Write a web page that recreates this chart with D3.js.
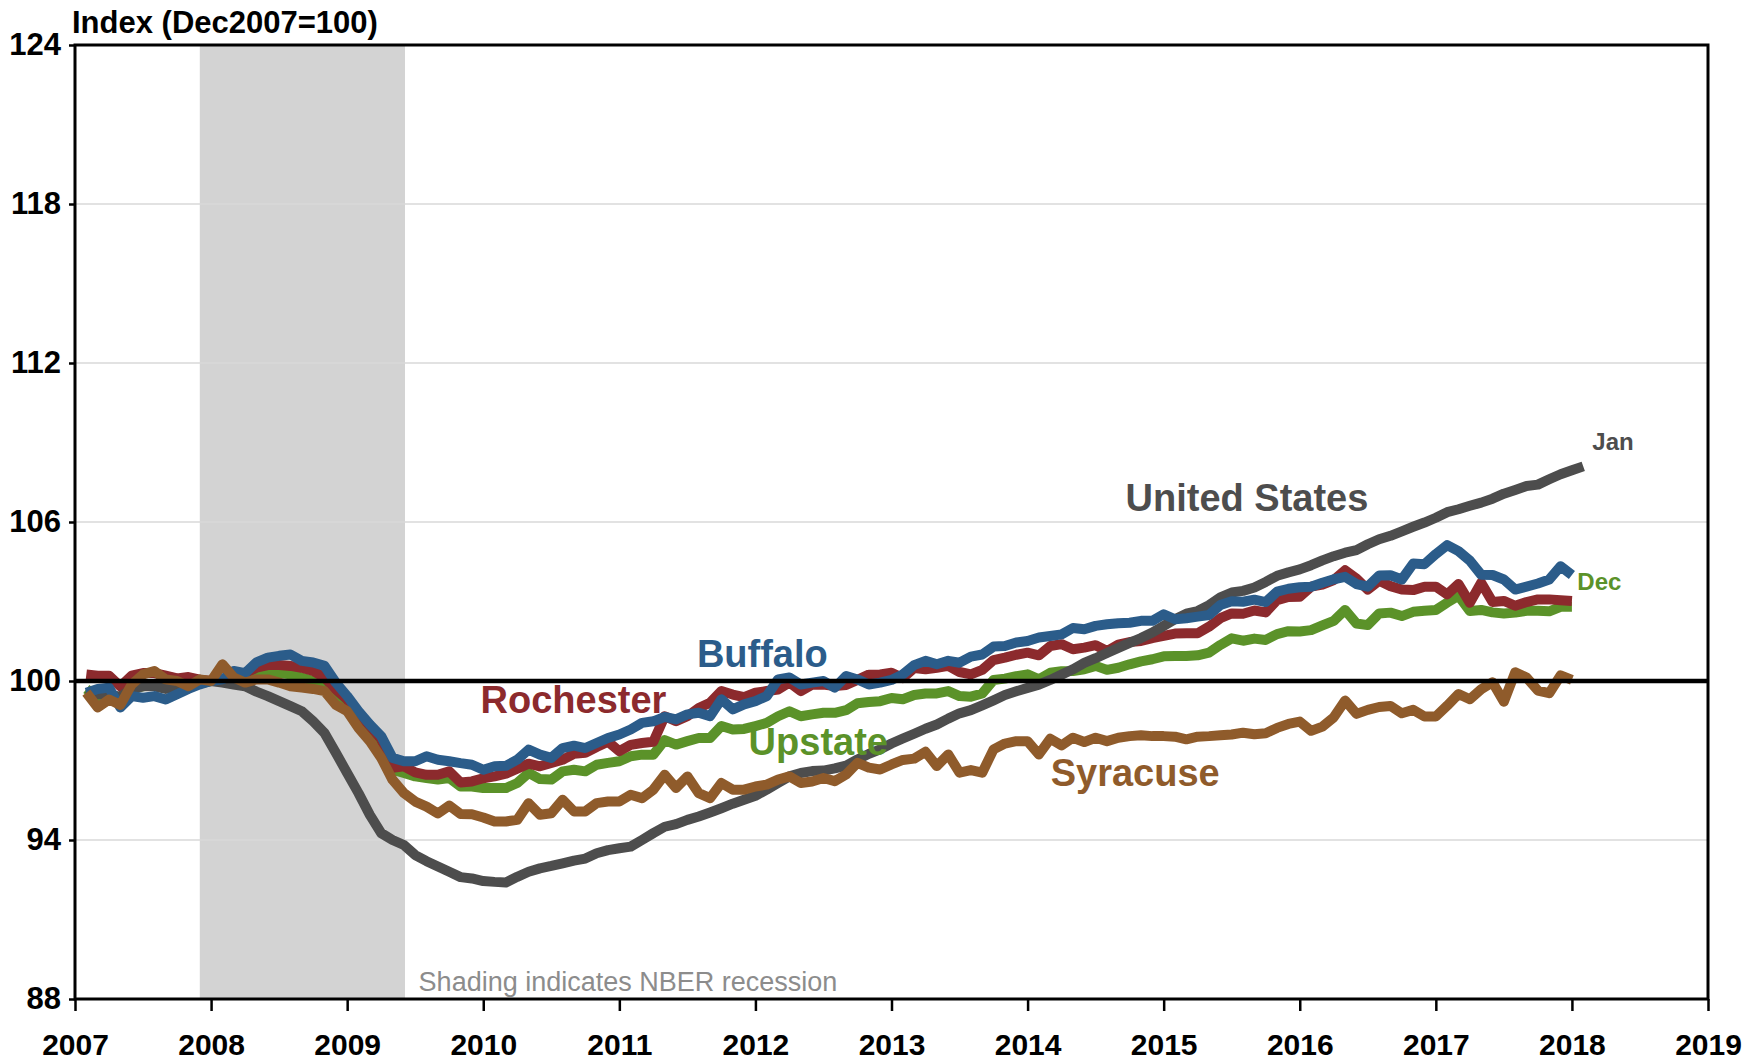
<!DOCTYPE html>
<html>
<head>
<meta charset="utf-8">
<title>Upstate employment index</title>
<script src="https://cdn.jsdelivr.net/npm/d3@7"></script>
<style>
  html, body { margin: 0; padding: 0; background: #ffffff; }
  #chart { width: 1760px; height: 1063px; }
  text { font-family: "Liberation Sans", Arial, sans-serif; }
</style>
</head>
<body>
<div id="chart"></div>
<script>
'use strict';

//#region data - monthly index values, Dec2007 = 100, first value is Jan 2007
const startYear = 2007;

const unitedStates = [
  99.4, 99.5, 99.5, 99.4, 99.7, 99.8, 99.8, 99.7, 99.8, 99.8, 99.9, 100,
  99.94, 99.87, 99.8, 99.6, 99.43, 99.24, 99.05, 98.86, 98.48, 98.04, 97.29, 96.53,
  95.77, 94.95, 94.26, 94.0, 93.81, 93.43, 93.2, 93.0, 92.8, 92.6, 92.55, 92.45,
  92.42, 92.4, 92.61, 92.8, 92.93, 93.02, 93.12, 93.22, 93.3, 93.5, 93.62, 93.69,
  93.75, 94.0, 94.26, 94.5, 94.6, 94.76, 94.89, 95.04, 95.2, 95.37, 95.52, 95.67,
  95.9, 96.15, 96.4, 96.53, 96.6, 96.62, 96.7, 96.81, 97.04, 97.25, 97.42, 97.64,
  97.83, 98.01, 98.2, 98.36, 98.58, 98.78, 98.9, 99.08, 99.27, 99.47, 99.61, 99.74,
  99.86, 100.04, 100.24, 100.44, 100.68, 100.86, 101.06, 101.25, 101.44, 101.62, 101.83, 102.08,
  102.33, 102.54, 102.64, 102.86, 103.16, 103.34, 103.4, 103.53, 103.74, 103.97, 104.1, 104.21,
  104.37, 104.55, 104.71, 104.84, 104.94, 105.16, 105.35, 105.48, 105.65, 105.82, 105.98, 106.16,
  106.37, 106.48, 106.61, 106.73, 106.88, 107.07, 107.21, 107.36, 107.41, 107.61, 107.8, 107.95,
  108.1
];

const buffalo = [
  99.56, 99.7, 99.75, 99.0, 99.43, 99.37, 99.43, 99.3, 99.5, 99.7, 99.87, 100,
  100.06, 100.38, 100.3, 100.7, 100.88, 100.95, 101.0, 100.76, 100.7, 100.57, 99.94, 99.43,
  98.86, 98.36, 97.92, 97.1, 96.97, 96.97, 97.16, 97.03, 96.97, 96.9, 96.84, 96.65,
  96.78, 96.8, 97.03, 97.41, 97.22, 97.1, 97.47, 97.56, 97.47, 97.66, 97.85, 97.98,
  98.17, 98.42, 98.48, 98.65, 98.55, 98.74, 98.8, 98.67, 99.31, 98.93, 99.12, 99.24,
  99.43, 100.06, 100.13, 99.87, 99.94, 100.0, 99.75, 100.19, 100.06, 99.87, 99.94, 100.04,
  100.25, 100.6, 100.76, 100.63, 100.76, 100.69, 100.92, 101.0, 101.3, 101.32, 101.45, 101.51,
  101.64, 101.7, 101.76, 102.0, 101.95, 102.08, 102.14, 102.18, 102.2, 102.27, 102.27, 102.52,
  102.33, 102.37, 102.43, 102.49, 102.87, 103.01, 102.99, 103.07, 102.98, 103.37, 103.48, 103.54,
  103.56, 103.71, 103.84, 103.93, 103.66, 103.56, 103.98, 103.99, 103.83, 104.43, 104.41, 104.79,
  105.13, 104.9, 104.54, 104.01, 104.0, 103.83, 103.45, 103.56, 103.68, 103.83, 104.33, 104.0
];

const rochester = [
  100.25, 100.2, 100.2, 99.8, 100.2, 100.3, 100.3, 100.2, 100.1, 100.15, 100.05, 100,
  100.0, 100.3, 100.3, 100.5, 100.6, 100.6, 100.57, 100.5, 100.38, 100.13, 99.68, 99.3,
  98.74, 98.3, 97.8, 96.72, 96.78, 96.55, 96.46, 96.46, 96.59, 96.17, 96.21, 96.33,
  96.4, 96.5, 96.69, 96.88, 96.78, 96.91, 97.03, 97.25, 97.29, 97.51, 97.71, 97.35,
  97.59, 97.66, 97.71, 98.67, 98.48, 98.67, 98.98, 99.18, 99.62, 99.49, 99.39, 99.56,
  99.62, 99.68, 99.94, 99.62, 99.86, 99.87, 99.81, 99.85, 100.04, 100.24, 100.25, 100.31,
  100.11, 100.49, 100.44, 100.5, 100.57, 100.34, 100.25, 100.42, 100.79, 100.88, 100.99, 101.07,
  100.97, 101.32, 101.39, 101.2, 101.26, 101.35, 101.13, 101.37, 101.47, 101.51, 101.62, 101.7,
  101.79, 101.8, 101.8, 102.05, 102.37, 102.55, 102.54, 102.66, 102.59, 103.05, 103.17, 103.18,
  103.56, 103.64, 103.81, 104.18, 103.87, 103.45, 103.78, 103.58, 103.45, 103.43, 103.56, 103.56,
  103.27, 103.66, 102.95, 103.71, 102.98, 103.02, 102.84, 102.98, 103.08, 103.08, 103.05, 103.02
];

const upstate = [
  99.7, 99.37, 99.5, 99.1, 99.68, 99.8, 99.87, 99.75, 99.8, 99.87, 99.94, 100,
  100.0, 100.13, 100.2, 100.3, 100.3, 100.3, 100.25, 100.13, 100.0, 99.75, 99.3, 98.93,
  98.48, 97.98, 97.41, 96.65, 96.53, 96.4, 96.34, 96.28, 96.34, 96.02, 96.02, 95.96,
  95.96, 95.96, 96.15, 96.53, 96.3, 96.28, 96.59, 96.65, 96.59, 96.84, 96.91, 96.97,
  97.16, 97.22, 97.22, 97.77, 97.6, 97.73, 97.85, 97.85, 98.3, 98.17, 98.19, 98.3,
  98.42, 98.67, 98.86, 98.67, 98.74, 98.8, 98.8, 98.9, 99.16, 99.21, 99.24, 99.36,
  99.31, 99.47, 99.53, 99.53, 99.62, 99.43, 99.41, 99.53, 100.04, 100.09, 100.18, 100.25,
  100.06, 100.31, 100.37, 100.38, 100.44, 100.57, 100.42, 100.5, 100.63, 100.74, 100.82, 100.93,
  100.94, 100.94, 100.97, 101.07, 101.36, 101.61, 101.52, 101.6, 101.55, 101.77, 101.88, 101.87,
  101.92, 102.1, 102.27, 102.68, 102.17, 102.11, 102.55, 102.58, 102.45, 102.61, 102.65, 102.68,
  102.96, 103.22, 102.64, 102.68, 102.59, 102.55, 102.58, 102.65, 102.65, 102.63, 102.8, 102.8
];

const syracuse = [
  99.56, 99.0, 99.3, 99.1, 99.87, 100.25, 100.38, 100.06, 100.0, 99.8, 100.06, 100,
  100.63, 100.13, 99.94, 100.06, 100.06, 99.94, 99.8, 99.75, 99.7, 99.62, 99.1, 98.86,
  98.23, 97.73, 97.1, 96.27, 95.77, 95.45, 95.26, 95.0, 95.3, 94.98, 94.97, 94.85,
  94.7, 94.7, 94.76, 95.39, 94.95, 95.01, 95.52, 95.08, 95.08, 95.39, 95.45, 95.45,
  95.71, 95.58, 95.9, 96.46, 95.96, 96.4, 95.77, 95.58, 96.15, 95.9, 95.9, 96.02,
  96.09, 96.28, 96.4, 96.15, 96.21, 96.34, 96.22, 96.47, 96.91, 96.73, 96.66, 96.85,
  97.02, 97.07, 97.33, 96.79, 97.23, 96.54, 96.64, 96.54, 97.42, 97.64, 97.73, 97.73,
  97.23, 97.82, 97.57, 97.86, 97.7, 97.86, 97.73, 97.86, 97.92, 97.95, 97.92, 97.92,
  97.9, 97.8, 97.9, 97.92, 97.95, 97.98, 98.05, 97.99, 98.03, 98.23, 98.38, 98.47,
  98.12, 98.28, 98.63, 99.26, 98.76, 98.91, 99.02, 99.06, 98.78, 98.91, 98.66, 98.66,
  99.07, 99.51, 99.31, 99.69, 99.95, 99.22, 100.33, 100.13, 99.64, 99.54, 100.21, 100.04
];

const yearTicks  = [2007, 2008, 2009, 2010, 2011, 2012, 2013, 2014, 2015, 2016, 2017, 2018, 2019];
const indexTicks = [88, 94, 100, 106, 112, 118, 124];
const recession  = [2007.917, 2009.425];   //NBER Dec 2007 - Jun 2009
//#endregion

//#region variable definitions
const width  = 1760;
const height = 1063;
const margin = {top: 45, right: 52, bottom: 64, left: 75};

let x, y;       //scale functions
let svg;        //svg reference
let plot;       //group for the plot area

const fontFamily = '"Liberation Sans", Arial, sans-serif';

//draw order matters, later ones sit on top
const series = [
  { name: 'Upstate',       values: upstate,      colour: '#5b9229' },
  { name: 'Rochester',     values: rochester,    colour: '#8c2a2d' },
  { name: 'United States', values: unitedStates, colour: '#4d4d4d' },
  { name: 'Buffalo',       values: buffalo,      colour: '#2b5c8a' },
  { name: 'Syracuse',      values: syracuse,     colour: '#8f5b2b' }
];
//#endregion

initialise();

function initialise() {
  svg = d3.select('#chart').append('svg')
    .attr('width', width)
    .attr('height', height);

  x = d3.scaleLinear().domain([2007, 2019]).range([margin.left, width - margin.right]);
  y = d3.scaleLinear().domain([88, 124]).range([height - margin.bottom, margin.top]);

  setupDisplay();
  drawLines();
  drawLabels();
}

function setupDisplay() {
  //recession shading
  svg.append('rect')
    .attr('x', x(recession[0]))
    .attr('y', y(124))
    .attr('width', x(recession[1]) - x(recession[0]))
    .attr('height', y(88) - y(124))
    .attr('fill', '#d3d3d3');

  //light gridlines, skip the 100 line as it gets its own black rule
  svg.append('g').selectAll('line')
    .data(indexTicks.filter(d => d !== 100 && d !== 88 && d !== 124))
    .join('line')
    .attr('x1', x(2007)).attr('x2', x(2019))
    .attr('y1', d => y(d)).attr('y2', d => y(d))
    .attr('stroke', '#d9d9d9')
    .attr('stroke-width', 1.5);

  svg.append('text')
    .attr('x', x(2009.525))
    .attr('y', y(88) - 8)
    .attr('fill', '#8c8c8c')
    .style('font-size', '27px')
    .text('Shading indicates NBER recession');

  //left axis
  let yAxis = d3.axisLeft(y).tickValues(indexTicks).tickSize(6).tickPadding(8).tickFormat(d3.format('d'));
  let gy = svg.append('g').attr('transform', `translate(${x(2007)},0)`).call(yAxis);
  gy.select('.domain').remove();
  gy.selectAll('line').attr('stroke', '#000').attr('stroke-width', 2.5);
  gy.selectAll('text')
    .attr('fill', '#000')
    .style('font-family', fontFamily)
    .style('font-size', '31px')
    .style('font-weight', 'bold');

  //bottom axis
  let xAxis = d3.axisBottom(x).tickValues(yearTicks).tickSize(12).tickPadding(23).tickFormat(d3.format('d'));
  let gx = svg.append('g').attr('transform', `translate(0,${y(88)})`).call(xAxis);
  gx.select('.domain').remove();
  gx.selectAll('line').attr('stroke', '#000').attr('stroke-width', 2.5);
  gx.selectAll('text')
    .attr('fill', '#000')
    .style('font-family', fontFamily)
    .style('font-size', '30px')
    .style('font-weight', 'bold');

  //axis title
  svg.append('text')
    .attr('x', 72)
    .attr('y', 33)
    .attr('fill', '#000')
    .style('font-size', '31px')
    .style('font-weight', 'bold')
    .text('Index (Dec2007=100)');
}

function drawLines() {
  plot = svg.append('g');

  //month i (0 = Jan 2007) sits at year + (i+1)/12, so Dec2007 lands on the 2008 tick
  let line = d3.line()
    .x((d, i) => x(startYear + (i + 1) / 12))
    .y(d => y(d));

  plot.selectAll('path.series')
    .data(series)
    .join('path')
    .attr('class', 'series')
    .attr('d', d => line(d.values))
    .attr('fill', 'none')
    .attr('stroke', d => d.colour)
    .attr('stroke-width', 10)
    .attr('stroke-linejoin', 'round');

  //100 reference line over the lines
  svg.append('line')
    .attr('x1', x(2007)).attr('x2', x(2019))
    .attr('y1', y(100)).attr('y2', y(100))
    .attr('stroke', '#000')
    .attr('stroke-width', 4.5);

  //frame round the plot
  svg.append('rect')
    .attr('x', x(2007))
    .attr('y', y(124))
    .attr('width', x(2019) - x(2007))
    .attr('height', y(88) - y(124))
    .attr('fill', 'none')
    .attr('stroke', '#000')
    .attr('stroke-width', 3);
}

function drawLabels() {
  //label anchors are in chart units (year, index)
  let labels = [
    { text: 'United States', year: 2014.72, value: 106.42, colour: '#4d4d4d', size: 38 },
    { text: 'Buffalo',       year: 2011.57, value: 100.52, colour: '#2b5c8a', size: 38 },
    { text: 'Rochester',     year: 2009.98, value: 98.8,   colour: '#8c2a2d', size: 38 },
    { text: 'Upstate',       year: 2011.95, value: 97.2,   colour: '#5b9229', size: 38 },
    { text: 'Syracuse',      year: 2014.17, value: 96.05,  colour: '#8f5b2b', size: 38 },
    { text: 'Jan',           year: 2018.15, value: 108.7,  colour: '#4d4d4d', size: 24 },
    { text: 'Dec',           year: 2018.04, value: 103.45, colour: '#5b9229', size: 24 }
  ];

  svg.append('g').selectAll('text')
    .data(labels)
    .join('text')
    .attr('x', d => x(d.year))
    .attr('y', d => y(d.value))
    .attr('fill', d => d.colour)
    .style('font-size', d => d.size + 'px')
    .style('font-weight', 'bold')
    .text(d => d.text);
}
</script>
</body>
</html>
